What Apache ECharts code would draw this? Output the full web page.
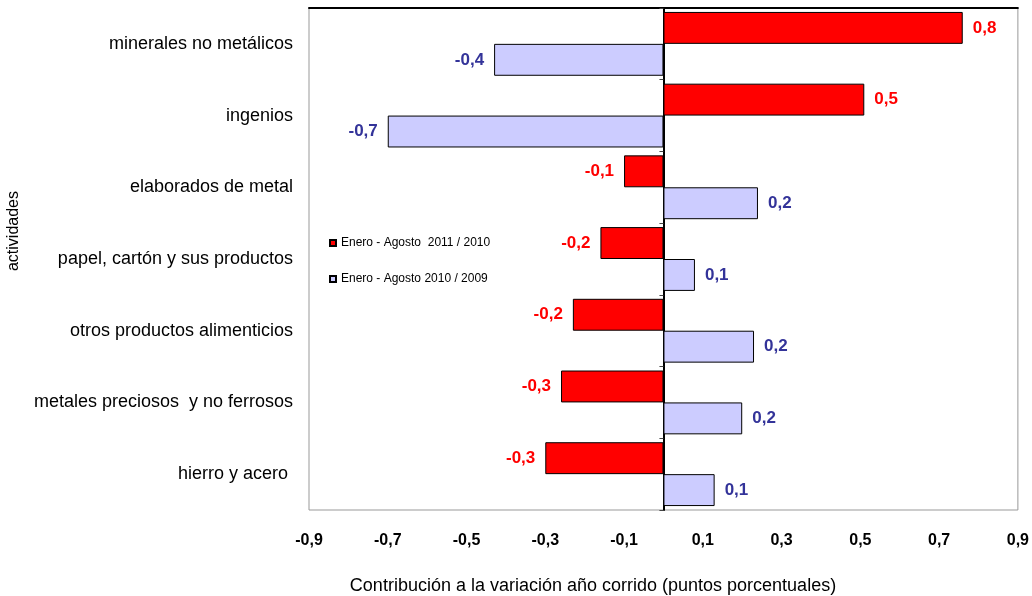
<!DOCTYPE html>
<html>
<head>
<meta charset="utf-8">
<script src="https://cdn.jsdelivr.net/npm/echarts@6/dist/echarts.min.js"></script>
<style>
  html, body { margin: 0; padding: 0; background: #fff; }
  #chart { width: 1032px; height: 596px; }
</style>
</head>
<body>
<div id="chart"></div>
<script>
const categories = [
  'minerales no metálicos',
  'ingenios',
  'elaborados de metal',
  'papel, cartón y sus productos',
  'otros productos alimenticios',
  'metales preciosos  y no ferrosos',
  'hierro y acero '
];
const seriesNames = ['Enero - Agosto  2011 / 2010', 'Enero - Agosto 2010 / 2009'];
const values2011 = [0.76, 0.51, -0.10, -0.16, -0.23, -0.26, -0.30];
const values2010 = [-0.43, -0.70, 0.24, 0.08, 0.23, 0.20, 0.13];
const xRange = [-0.9, 0.9];
const xStep = 0.2;

const fontFamily = 'Liberation Sans, Arial, sans-serif';
const fmt = v => Number(v).toFixed(1).replace('.', ',');

function barSeries(name, vals, fill, labelColor) {
  return {
    name: name,
    type: 'bar',
    barGap: '0%',
    barCategoryGap: '11%',
    itemStyle: { color: fill, borderColor: '#000', borderWidth: 1 },
    label: {
      show: true,
      distance: 10,
      color: labelColor,
      fontWeight: 'bold',
      fontSize: 17,
      fontFamily: fontFamily,
      formatter: p => fmt(p.value)
    },
    data: vals.map(v => ({ value: v, label: { position: v < 0 ? 'left' : 'right' } }))
  };
}

const chart = echarts.init(document.getElementById('chart'));
chart.setOption({
  animation: false,
  backgroundColor: '#fff',
  grid: { left: 309, top: 8, right: 13, bottom: 86, show: true, borderColor: '#999', borderWidth: 1 },
  legend: {
    orient: 'vertical',
    left: 324,
    top: 232,
    icon: 'rect',
    itemWidth: 6,
    itemHeight: 6,
    itemGap: 24,
    textStyle: { fontSize: 12, color: '#000', fontFamily: fontFamily },
    data: seriesNames
  },
  xAxis: [
    {
      type: 'value',
      min: xRange[0],
      max: xRange[1],
      interval: xStep,
      axisLine: { show: false },
      axisTick: { show: false },
      splitLine: { show: false },
      axisLabel: { margin: 23, fontSize: 16, fontWeight: 'bold', color: '#000', fontFamily: fontFamily, formatter: fmt }
    },
    {
      type: 'value',
      position: 'top',
      min: xRange[0],
      max: xRange[1],
      interval: xStep,
      axisLine: { show: true, lineStyle: { color: '#000', width: 2 } },
      axisTick: { show: false },
      axisLabel: { show: false },
      splitLine: { show: false }
    }
  ],
  yAxis: [
    {
      type: 'category',
      data: categories,
      inverse: true,
      axisLine: { show: false, onZero: false },
      axisTick: { show: false },
      axisLabel: { margin: 16, fontSize: 18, color: '#000', fontFamily: fontFamily }
    },
    {
      type: 'category',
      data: categories,
      inverse: true,
      position: 'left',
      axisLine: { show: true, onZero: true, lineStyle: { color: '#000', width: 2 } },
      axisTick: { show: true, length: 4, lineStyle: { color: '#444' } },
      axisLabel: { show: false }
    }
  ],
  graphic: [
    {
      type: 'text',
      x: 14,
      y: 231,
      rotation: Math.PI / 2,
      style: {
        text: 'actividades',
        fontSize: 16,
        fontFamily: fontFamily,
        fill: '#000',
        textAlign: 'center',
        textVerticalAlign: 'middle'
      }
    },
    {
      type: 'text',
      x: 593,
      y: 586,
      style: {
        text: 'Contribución a la variación año corrido (puntos porcentuales)',
        fontSize: 18,
        fontFamily: fontFamily,
        fill: '#000',
        textAlign: 'center',
        textVerticalAlign: 'middle'
      }
    }
  ],
  series: [
    barSeries(seriesNames[0], values2011, '#ff0000', '#ff0000'),
    barSeries(seriesNames[1], values2010, '#ccccff', '#333399')
  ]
});
</script>
</body>
</html>
